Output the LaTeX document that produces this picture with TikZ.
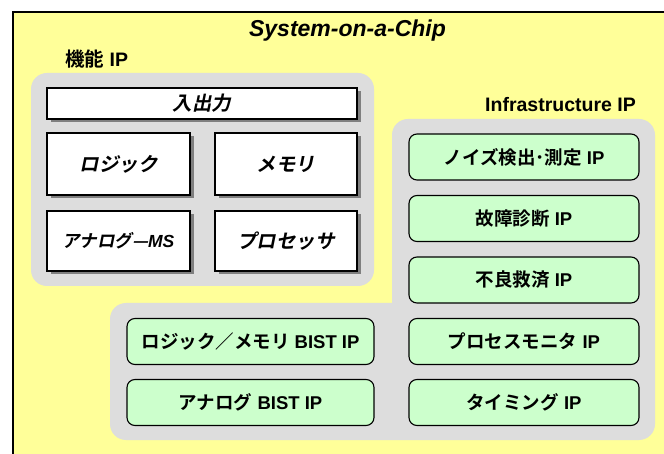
\documentclass[tikz,border=0pt]{standalone}
\usepackage{fontspec}
\setmainfont{Liberation Sans}
\newfontfamily\jp[BoldFont={Noto Sans CJK JP Bold},
  ItalicFont={Noto Sans CJK JP}, ItalicFeatures={FakeSlant=0.2},
  BoldItalicFont={Noto Sans CJK JP Bold}, BoldItalicFeatures={FakeSlant=0.2}]{Noto Sans CJK JP}
\usetikzlibrary{shadows}
\definecolor{socyellow}{HTML}{FFFF99}
\definecolor{grpgray}{HTML}{DDDDDD}
\definecolor{ipgreen}{HTML}{CCFFCC}
\definecolor{shadowgray}{HTML}{7F7F7F}
\tikzset{
  wbox/.style={draw=black, line width=1.6pt, fill=white, inner sep=0pt,
    drop shadow={shadow xshift=3.5pt, shadow yshift=-3.5pt, fill=shadowgray, opacity=1},
    font=\bfseries\itshape\fontsize{19.5}{22}\selectfont},
  gbox/.style={draw=black, line width=1.1pt, fill=ipgreen, rounded corners=8pt, inner sep=0pt,
    font=\bfseries\fontsize{18.5}{21}\selectfont},
  grp/.style={fill=grpgray},
  lbl/.style={inner sep=0pt, font=\bfseries\fontsize{19.5}{22}\selectfont}
}
\begin{document}
\begin{tikzpicture}[x=1pt,y=-1pt]
\useasboundingbox (0,0) rectangle (664,454);
\begin{scope}
\clip (0,0) rectangle (664,454);
\fill[socyellow] (13,12) rectangle (700,500);
\draw[line width=2.5pt] (13,500) -- (13,12) -- (700,12);
\end{scope}
% groups
\fill[grp, rounded corners=16pt] (31,73) rectangle (374,286);
\fill[grp] (392,303) [rounded corners=16pt] -- (392,119) -- (655,119) -- (655,440) -- (110,440) -- (110,303) [sharp corners] -- cycle;
% titles
\node[inner sep=0pt, anchor=base, font=\bfseries\itshape\fontsize{23}{26}\selectfont] (soc) at (347.5,37) {System-on-a-Chip};
\node[lbl, anchor=base west] (func) at (65,67) {{\jp 機能} IP};
\node[lbl, anchor=base east] (infra) at (636,112) {Infrastructure IP};
% functional IP
\node[wbox, minimum width=310pt, minimum height=31pt] (io) at (202,103.5) {\jp 入出力};
\node[wbox, minimum width=143pt, minimum height=62pt] (logic) at (118.5,164) {\jp ロジック};
\node[wbox, minimum width=142pt, minimum height=62pt] (mem) at (286,164) {\jp メモリ};
\node[wbox, minimum width=143pt, minimum height=60pt, font=\bfseries\itshape\fontsize{17.5}{20}\selectfont] (ams) at (118.5,241) {{\jp アナログ—}MS};
\node[wbox, minimum width=142pt, minimum height=60pt] (proc) at (286,241) {\jp プロセッサ};
% infrastructure IP
\node[gbox, minimum width=230pt, minimum height=46pt] (noise) at (524,157) {{\jp ノイズ検出･測定} IP};
\node[gbox, minimum width=230pt, minimum height=46pt] (diag) at (524,218.5) {{\jp 故障診断} IP};
\node[gbox, minimum width=230pt, minimum height=46pt] (repair) at (524,280) {{\jp 不良救済} IP};
\node[gbox, minimum width=230pt, minimum height=46pt] (pmon) at (524,341.5) {{\jp プロセスモニタ} IP};
\node[gbox, minimum width=230pt, minimum height=46pt] (timing) at (524,402.5) {{\jp タイミング} IP};
\node[gbox, minimum width=247pt, minimum height=46pt] (lmbist) at (250.5,341.5) {{\jp ロジック／メモリ} BIST IP};
\node[gbox, minimum width=247pt, minimum height=46pt] (abist) at (250.5,402.5) {{\jp アナログ} BIST IP};
\end{tikzpicture}
\end{document}
